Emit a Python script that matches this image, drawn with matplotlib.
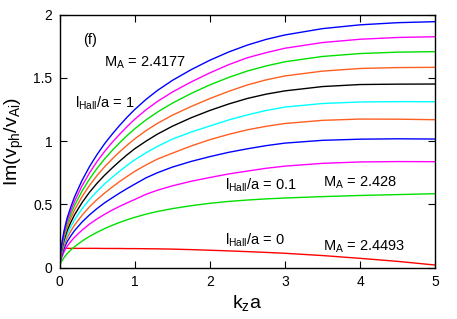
import matplotlib
matplotlib.use("Agg")
import matplotlib.pyplot as plt

plt.rcParams['font.family'] = ['Liberation Sans', 'DejaVu Sans']
plt.rcParams['mathtext.default'] = 'regular'

kza = [0, 0.01, 0.03, 0.06, 0.1, 0.15, 0.2, 0.3, 0.4, 0.5, 0.6, 0.7, 0.8, 0.9, 1.0,
       1.15, 1.3, 1.5, 1.75, 2.0, 2.25, 2.5, 2.75, 3.0, 3.5, 4.0, 4.5, 5.0]

# curves from bottom (l_Hall/a = 0) to top (l_Hall/a = 1)
im_red      = [0.0, 0.06, 0.13, 0.152, 0.153, 0.153, 0.153, 0.153, 0.153, 0.153, 0.152, 0.152, 0.152, 0.151, 0.151,
               0.150, 0.149, 0.147, 0.143, 0.138, 0.133, 0.127, 0.121, 0.114, 0.096, 0.074, 0.050, 0.021]
im_green2   = [0.02, 0.03, 0.052, 0.08, 0.11, 0.14, 0.166, 0.21, 0.248, 0.28, 0.309, 0.335, 0.358, 0.379, 0.398,
               0.423, 0.444, 0.467, 0.49, 0.509, 0.524, 0.535, 0.544, 0.551, 0.562, 0.571, 0.578, 0.585]
im_magenta2 = [0.03, 0.043, 0.082, 0.125, 0.168, 0.207, 0.241, 0.297, 0.345, 0.386, 0.422, 0.455, 0.485, 0.513, 0.539,
               0.58, 0.612, 0.647, 0.683, 0.713, 0.741, 0.764, 0.786, 0.803, 0.825, 0.836, 0.839, 0.838]
im_blue2    = [0.03, 0.052, 0.099, 0.152, 0.204, 0.251, 0.293, 0.361, 0.418, 0.468, 0.513, 0.552, 0.59, 0.626, 0.66,
               0.71, 0.75, 0.795, 0.84, 0.878, 0.912, 0.94, 0.965, 0.985, 1.007, 1.016, 1.019, 1.017]
im_orange2  = [0.03, 0.06, 0.114, 0.175, 0.235, 0.289, 0.337, 0.415, 0.482, 0.539, 0.59, 0.637, 0.681, 0.722, 0.761,
               0.812, 0.858, 0.905, 0.962, 1.012, 1.054, 1.09, 1.118, 1.14, 1.165, 1.175, 1.174, 1.17]
im_cyan     = [0.03, 0.068, 0.128, 0.196, 0.263, 0.324, 0.378, 0.466, 0.54, 0.604, 0.662, 0.714, 0.763, 0.809, 0.852,
               0.908, 0.958, 1.016, 1.072, 1.12, 1.168, 1.208, 1.243, 1.27, 1.298, 1.31, 1.313, 1.312]
im_black    = [0.03, 0.075, 0.142, 0.216, 0.291, 0.358, 0.418, 0.515, 0.597, 0.668, 0.731, 0.788, 0.842, 0.893, 0.94,
               1.0, 1.055, 1.118, 1.185, 1.243, 1.294, 1.338, 1.372, 1.398, 1.432, 1.448, 1.451, 1.452]
im_orange   = [0.03, 0.081, 0.155, 0.236, 0.317, 0.391, 0.456, 0.562, 0.651, 0.729, 0.798, 0.859, 0.916, 0.969, 1.018,
               1.083, 1.14, 1.205, 1.274, 1.337, 1.394, 1.445, 1.485, 1.516, 1.554, 1.575, 1.582, 1.584]
im_green    = [0.03, 0.088, 0.167, 0.255, 0.342, 0.421, 0.492, 0.606, 0.702, 0.786, 0.86, 0.926, 0.988, 1.045, 1.098,
               1.168, 1.229, 1.30, 1.377, 1.445, 1.504, 1.555, 1.595, 1.628, 1.67, 1.693, 1.704, 1.708]
im_magenta  = [0.03, 0.094, 0.178, 0.272, 0.366, 0.45, 0.525, 0.647, 0.75, 0.84, 0.919, 0.99, 1.055, 1.116, 1.173,
               1.248, 1.313, 1.388, 1.468, 1.54, 1.605, 1.66, 1.70, 1.735, 1.78, 1.806, 1.82, 1.826]
im_blue     = [0.03, 0.10, 0.19, 0.29, 0.39, 0.48, 0.56, 0.69, 0.80, 0.895, 0.98, 1.055, 1.125, 1.19, 1.25,
               1.33, 1.40, 1.48, 1.565, 1.64, 1.705, 1.76, 1.805, 1.84, 1.89, 1.92, 1.937, 1.945]

series = [im_red, im_green2, im_magenta2, im_blue2, im_orange2, im_cyan,
          im_black, im_orange, im_green, im_magenta, im_blue]
colors = ['#ff0000', '#00e000', '#ff00ff', '#0000ff', '#ff5f1f', '#00ffff',
          '#000000', '#ff5f1f', '#00e000', '#ff00ff', '#0000ff']

xticks = [0, 1, 2, 3, 4, 5]
yticks = [0, 0.5, 1, 1.5, 2]
ytick_labels = ['0', '0.5', '1', '1.5', '2']

fig = plt.figure(figsize=(4.57, 3.19), dpi=100)
ax = fig.add_axes([0.1302, 0.1608, 0.8223, 0.7931])

for ys, c in zip(series, colors):
    ax.plot(kza, ys, color=c, lw=1.0)

ax.set_xlim(0, 5)
ax.set_ylim(0, 2)
ax.set_xticks(xticks)
ax.set_xticklabels([str(t) for t in xticks])
ax.set_yticks(yticks)
ax.set_yticklabels(ytick_labels)
ax.tick_params(direction='in', length=5, width=0.8, top=True, right=True,
               labelsize=10, pad=5)
for s in ax.spines.values():
    s.set_linewidth(1.0)

ax.set_xlabel('k$_z$a', fontsize=14, labelpad=3)
ax.set_ylabel('Im(v$_{ph}$/v$_{Ai}$)', fontsize=14, labelpad=5)

fs = 10.5
ax.text(0.31, 1.80, '(f)', fontsize=fs, va='center', ha='left')
ax.text(0.59, 1.62, 'M$_A$ = 2.4177', fontsize=fs, va='center', ha='left')
ax.text(0.21, 1.30, 'l$_{Hall}$/a = 1', fontsize=fs, va='center', ha='left')
ax.text(2.20, 0.654, 'l$_{Hall}$/a = 0.1', fontsize=fs, va='center', ha='left')
ax.text(3.50, 0.67, 'M$_A$ = 2.428', fontsize=fs, va='center', ha='left')
ax.text(2.20, 0.219, 'l$_{Hall}$/a = 0', fontsize=fs, va='center', ha='left')
ax.text(3.50, 0.166, 'M$_A$ = 2.4493', fontsize=fs, va='center', ha='left')

fig.savefig('out.png', dpi=100)
